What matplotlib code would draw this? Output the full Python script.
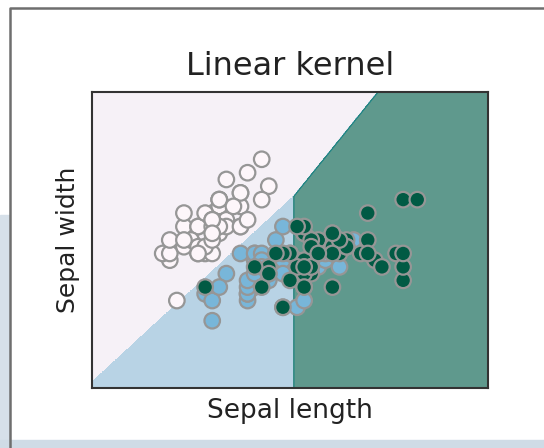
import numpy as np
import matplotlib.pyplot as plt
from matplotlib.patches import Rectangle
from matplotlib.lines import Line2D

# iris sepal measurements (setosa, versicolor, virginica)
sepal_length = [
    5.1, 4.9, 4.7, 4.6, 5.0, 5.4, 4.6, 5.0, 4.4, 4.9, 5.4, 4.8, 4.8, 4.3, 5.8, 5.7, 5.4, 5.1, 5.7, 5.1,
    5.4, 5.1, 4.6, 5.1, 4.8, 5.0, 5.0, 5.2, 5.2, 4.7, 4.8, 5.4, 5.2, 5.5, 4.9, 5.0, 5.5, 4.9, 4.4, 5.1,
    5.0, 4.5, 4.4, 5.0, 5.1, 4.8, 5.1, 4.6, 5.3, 5.0,
    7.0, 6.4, 6.9, 5.5, 6.5, 5.7, 6.3, 4.9, 6.6, 5.2, 5.0, 5.9, 6.0, 6.1, 5.6, 6.7, 5.6, 5.8, 6.2, 5.6,
    5.9, 6.1, 6.3, 6.1, 6.4, 6.6, 6.8, 6.7, 6.0, 5.7, 5.5, 5.5, 5.8, 6.0, 5.4, 6.0, 6.7, 6.3, 5.6, 5.5,
    5.5, 6.1, 5.8, 5.0, 5.6, 5.7, 5.7, 6.2, 5.1, 5.7,
    6.3, 5.8, 7.1, 6.3, 6.5, 7.6, 4.9, 7.3, 6.7, 7.2, 6.5, 6.4, 6.8, 5.7, 5.8, 6.4, 6.5, 7.7, 7.7, 6.0,
    6.9, 5.6, 7.7, 6.3, 6.7, 7.2, 6.2, 6.1, 6.4, 7.2, 7.4, 7.9, 6.4, 6.3, 6.1, 7.7, 6.3, 6.4, 6.0, 6.9,
    6.7, 6.9, 5.8, 6.8, 6.7, 6.7, 6.3, 6.5, 6.2, 5.9,
]
sepal_width = [
    3.5, 3.0, 3.2, 3.1, 3.6, 3.9, 3.4, 3.4, 2.9, 3.1, 3.7, 3.4, 3.0, 3.0, 4.0, 4.4, 3.9, 3.5, 3.8, 3.8,
    3.4, 3.7, 3.6, 3.3, 3.4, 3.0, 3.4, 3.5, 3.4, 3.2, 3.1, 3.4, 4.1, 4.2, 3.1, 3.2, 3.5, 3.6, 3.0, 3.4,
    3.5, 2.3, 3.2, 3.5, 3.8, 3.0, 3.8, 3.2, 3.7, 3.3,
    3.2, 3.2, 3.1, 2.3, 2.8, 2.8, 3.3, 2.4, 2.9, 2.7, 2.0, 3.0, 2.2, 2.9, 2.9, 3.1, 3.0, 2.7, 2.2, 2.5,
    3.2, 2.8, 2.5, 2.8, 2.9, 3.0, 2.8, 3.0, 2.9, 2.6, 2.4, 2.4, 2.7, 2.7, 3.0, 3.4, 3.1, 2.3, 3.0, 2.5,
    2.6, 3.0, 2.6, 2.3, 2.7, 3.0, 2.9, 2.9, 2.5, 2.8,
    3.3, 2.7, 3.0, 2.9, 3.0, 3.0, 2.5, 2.9, 2.5, 3.6, 3.2, 2.7, 3.0, 2.5, 2.8, 3.2, 3.0, 3.8, 2.6, 2.2,
    3.2, 2.8, 2.8, 2.7, 3.3, 3.2, 2.8, 3.0, 2.8, 3.0, 2.8, 3.8, 2.8, 2.8, 2.6, 3.0, 3.4, 3.1, 3.0, 3.1,
    3.1, 3.1, 2.7, 3.2, 3.3, 3.0, 2.5, 3.0, 3.4, 3.0,
]
species = [0] * 50 + [1] * 50 + [2] * 50

# pairwise linear boundaries (y = y0 + slope * (x - x0))
triple_point = (6.157, 3.854)
slope_setosa_versicolor = 0.968
slope_setosa_virginica = 1.302

region_colors = ["#f6f1f7", "#b8d3e5", "#5f998d"]
point_colors = ["#fdf6fa", "#78b6d9", "#015a44"]

X = np.array(sepal_length)
Y = np.array(sepal_width)
x_min, x_max = X.min() - 1, X.max() + 1
y_min, y_max = Y.min() - 1, Y.max() + 1
xx, yy = np.meshgrid(np.linspace(x_min, x_max, 800), np.linspace(y_min, y_max, 800))

# one-vs-one voting
x0, y0 = triple_point
votes = np.zeros(xx.shape + (3,))
s01 = yy > y0 + slope_setosa_versicolor * (xx - x0)
s02 = yy > y0 + slope_setosa_virginica * (xx - x0)
s12 = xx < x0
votes[..., 0] += s01
votes[..., 1] += ~s01
votes[..., 0] += s02
votes[..., 2] += ~s02
votes[..., 1] += s12
votes[..., 2] += ~s12
Z = votes.argmax(axis=-1)

fig = plt.figure(figsize=(5.44, 4.48), dpi=100)

# screenshot frame around the chart
fig.patches.append(Rectangle((0, 0), 9 / 544, 233 / 448, transform=fig.transFigure,
                             color="#d6e0e9", zorder=-2))
fig.patches.append(Rectangle((0, 0), 1, 8 / 448, transform=fig.transFigure,
                             color="#cfdbe6", zorder=-2))
fig.lines.append(Line2D([10 / 544, 10 / 544, 1], [0, 440 / 448, 440 / 448],
                        transform=fig.transFigure, color="#6e6e6e", linewidth=1.8, zorder=-1))

ax = fig.add_axes([92 / 544, 60 / 448, 396 / 544, 296 / 448])
ax.contourf(xx, yy, Z, levels=[-0.5, 0.5, 1.5, 2.5], colors=region_colors)
ax.contour(xx, yy, Z, levels=[1.5], colors="#1f8585", linewidths=0.8)
ax.scatter(X, Y, c=[point_colors[s] for s in species], s=125,
           edgecolors="#969696", linewidths=1.6, zorder=3)

ax.set_xlim(x_min, x_max)
ax.set_ylim(y_min, y_max)
ax.set_xticks([])
ax.set_yticks([])
for spine in ax.spines.values():
    spine.set_color("#333333")
    spine.set_linewidth(1.5)

ax.set_title("Linear kernel", fontsize=23, color="#222222", pad=12)
ax.set_xlabel("Sepal length", fontsize=19, color="#222222", labelpad=7)
ax.set_ylabel("Sepal width", fontsize=18, color="#222222", labelpad=9)

fig.savefig("out.png", dpi=100)
